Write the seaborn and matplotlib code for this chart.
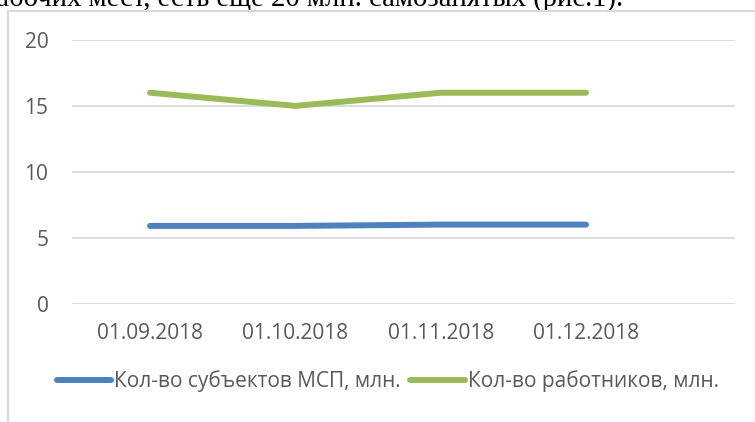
import matplotlib
matplotlib.use('Agg')
import matplotlib.pyplot as plt
import pandas as pd
import seaborn as sns
from matplotlib.patches import Rectangle

# данные с графика
dates = ['01.09.2018', '01.10.2018', '01.11.2018', '01.12.2018']
subjects = [5.9, 5.9, 6.0, 6.0]
workers = [16.0, 15.0, 16.0, 16.0]
series_names = ['Кол-во субъектов МСП, млн.', 'Кол-во работников, млн.']
y_ticks = [0, 5, 10, 15, 20]

df = pd.DataFrame({
    'Дата': dates * 2,
    'Значение': subjects + workers,
    'Ряд': [series_names[0]] * len(dates) + [series_names[1]] * len(dates),
})

sns.set_theme(style='white')
plt.rcParams['font.family'] = ['Open Sans', 'DejaVu Sans']

grey_text = '#595959'
grid_col = '#d9d9d9'

fig = plt.figure(figsize=(7.55, 4.22), dpi=100)
ax = fig.add_axes([72 / 755, 1 - 303.7 / 422, 663 / 755, 263.7 / 422])

sns.lineplot(data=df, x='Дата', y='Значение', hue='Ряд',
             palette=['#4F81BD', '#9BBB59'], linewidth=4.3, sort=False,
             solid_capstyle='round', ax=ax, legend=True)

ax.set_ylim(0, 20)
ax.set_xlim(-0.537, 4.025)
ax.set_yticks(y_ticks)
ax.yaxis.grid(True, color=grid_col, linewidth=1.3)
ax.set_axisbelow(True)
for s in ax.spines.values():
    s.set_visible(False)
ax.set_xlabel('')
ax.set_ylabel('')
ax.tick_params(axis='y', length=0, pad=17, labelsize=15, labelcolor=grey_text)
ax.tick_params(axis='x', length=0, pad=14, labelsize=15, labelcolor=grey_text)

# легенда снизу
handles, labels = ax.get_legend_handles_labels()
ax.get_legend().remove()
leg = fig.legend(handles, labels, ncol=2, loc='center',
                 bbox_to_anchor=(388 / 755, 1 - 381 / 422), frameon=False,
                 fontsize=15, handlelength=2.6, handletextpad=0.15,
                 columnspacing=0.45)
for t in leg.get_texts():
    t.set_color(grey_text)
for h in leg.get_lines():
    h.set_linewidth(4.3)
    h.set_solid_capstyle('round')

# рамка области диаграммы (обрезана справа и снизу)
fig.add_artist(Rectangle((7.5 / 755, -0.1), 1.2, (1 - 11 / 422) + 0.1,
                         transform=fig.transFigure, fill=False,
                         edgecolor=grid_col, linewidth=1.5, zorder=5))

# обрезанная строка текста документа сверху
fig.text(623 / 755, 1 - 6 / 422, 'рабочих мест, есть еще 20 млн. самозанятых (рис.1).',
         ha='right', va='baseline', fontsize=20.6, family='Liberation Serif',
         color='black')

fig.savefig('out.png', dpi=100)
